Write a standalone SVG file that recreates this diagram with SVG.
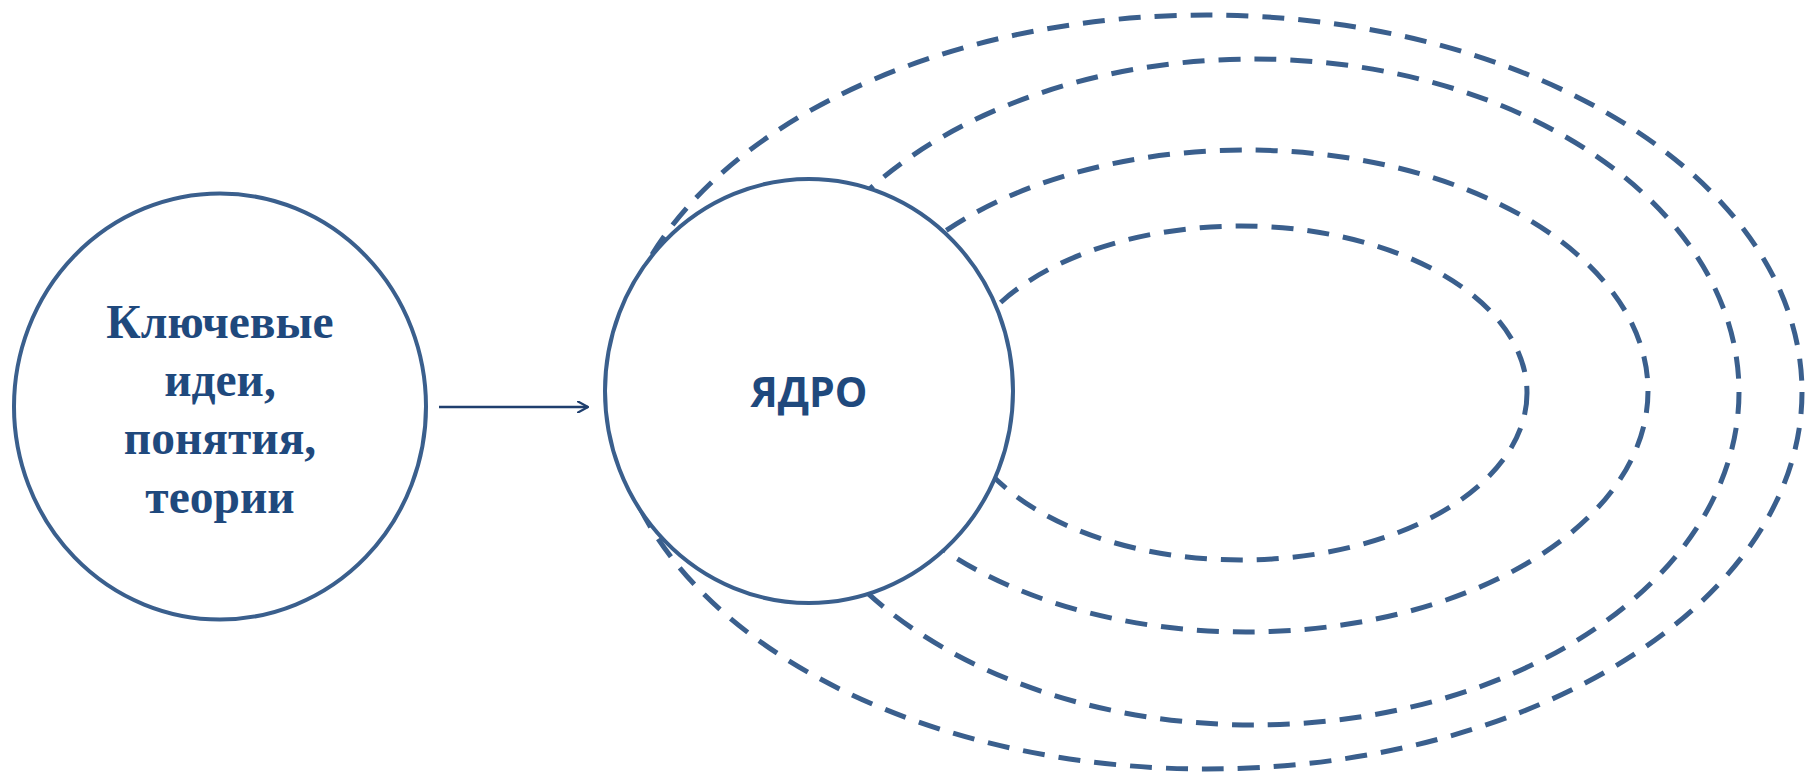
<svg xmlns="http://www.w3.org/2000/svg" width="1810" height="775" viewBox="0 0 1810 775">
  <defs>
    <style>
      .node { fill: #FFFFFF; stroke: #3A5F8D; stroke-width: 4; }
      .orbit { fill: none; stroke: #3A5F8D; stroke-width: 5; stroke-dasharray: 22 14; }
      .serif { font-family: "Liberation Serif", "Times New Roman", serif; font-weight: bold; font-size: 47.5px; fill: #1F497D; text-anchor: middle; }
      .sans { font-family: "Open Sans", "Liberation Sans", Arial, sans-serif; font-weight: bold; font-size: 41px; fill: #1F497D; text-anchor: middle; }
      .conn { fill: none; stroke: #1F3F6E; stroke-width: 2.6; }
    </style>
    <marker id="arrowOpen" viewBox="0 0 12 12" refX="11" refY="6" markerWidth="12" markerHeight="12" markerUnits="userSpaceOnUse" orient="auto">
      <path d="M1,0.5 L11,6 L1,11.5" fill="none" stroke="#1F3F6E" stroke-width="2.2" stroke-linecap="round" stroke-linejoin="miter"/>
    </marker>
  </defs>
  <rect x="0" y="0" width="1810" height="775" fill="#FFFFFF"/>

  <g id="node-key-ideas">
    <ellipse class="node" cx="220" cy="406.5" rx="206" ry="213"/>
    <text class="serif" x="220" y="337.5">Ключевые</text>
    <text class="serif" x="220" y="396">идеи,</text>
    <text class="serif" x="220" y="454">понятия,</text>
    <text class="serif" x="220" y="512.5">теории</text>
  </g>

  <g id="orbits">
    <ellipse class="orbit" cx="1206.5" cy="392" rx="595.5" ry="377"/>
    <ellipse class="orbit" cx="1254" cy="392" rx="485" ry="333"/>
    <ellipse class="orbit" cx="1246" cy="391" rx="402" ry="241"/>
    <ellipse class="orbit" cx="1241" cy="393" rx="286" ry="167"/>
  </g>

  <g id="node-core">
    <ellipse class="node" cx="809" cy="391" rx="204" ry="212"/>
    <text class="sans" x="809" y="407">ЯДРО</text>
  </g>

  <g id="connectors">
    <line class="conn" x1="439" y1="407" x2="588" y2="407" marker-end="url(#arrowOpen)"/>
  </g>
</svg>
